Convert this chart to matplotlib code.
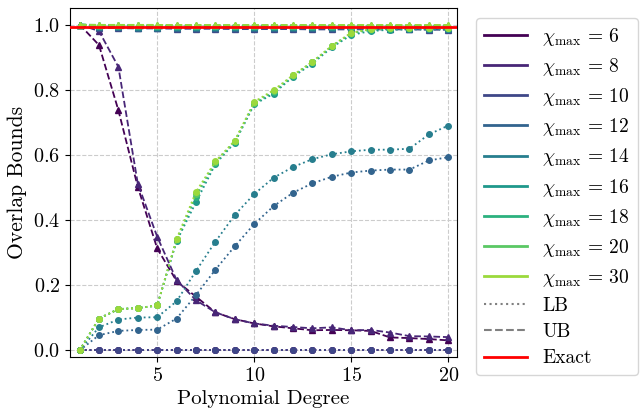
import matplotlib
matplotlib.use('Agg')
import matplotlib.pyplot as plt
from matplotlib.lines import Line2D
import numpy as np

plt.rcParams['font.family'] = 'serif'
plt.rcParams['font.serif'] = ['cmr10']
plt.rcParams['mathtext.fontset'] = 'cm'
plt.rcParams['axes.formatter.use_mathtext'] = True

degrees = list(range(1, 21))
chi_values = [6, 8, 10, 12, 14, 16, 18, 20, 30]
exact_overlap = 0.993

# lower bounds (dotted, circles)
lb_chi6 = [0.0] * 20
lb_chi8 = [0.0] * 20
lb_chi10 = [0.0] * 20
lb_chi12 = [0.0, 0.047, 0.060, 0.063, 0.064, 0.098, 0.170, 0.248, 0.320, 0.388,
            0.443, 0.484, 0.513, 0.533, 0.546, 0.552, 0.555, 0.555, 0.583, 0.593]
lb_chi14 = [0.0, 0.071, 0.095, 0.101, 0.102, 0.151, 0.244, 0.334, 0.416, 0.480,
            0.530, 0.563, 0.587, 0.602, 0.611, 0.616, 0.616, 0.619, 0.663, 0.690]
lb_chi16 = [0.0, 0.098, 0.127, 0.130, 0.138, 0.335, 0.455, 0.572, 0.638, 0.755,
            0.788, 0.840, 0.880, 0.930, 0.968, 0.980, 0.984, 0.985, 0.985, 0.985]
lb_chi18 = [0.0, 0.098, 0.127, 0.130, 0.138, 0.338, 0.472, 0.576, 0.641, 0.758,
            0.792, 0.842, 0.884, 0.933, 0.972, 0.984, 0.987, 0.988, 0.988, 0.988]
lb_chi20 = [0.0, 0.098, 0.127, 0.130, 0.138, 0.341, 0.479, 0.578, 0.643, 0.760,
            0.796, 0.844, 0.885, 0.934, 0.974, 0.985, 0.989, 0.990, 0.990, 0.990]
lb_chi30 = [0.0, 0.098, 0.127, 0.130, 0.138, 0.342, 0.487, 0.580, 0.644, 0.763,
            0.799, 0.845, 0.886, 0.935, 0.975, 0.986, 0.990, 0.990, 0.990, 0.990]

# upper bounds (dashed, triangles)
ub_chi6 = [1.0, 0.937, 0.737, 0.502, 0.313, 0.213, 0.165, 0.117, 0.096, 0.083,
           0.074, 0.068, 0.062, 0.063, 0.062, 0.060, 0.040, 0.038, 0.035, 0.031]
ub_chi8 = [1.0, 0.980, 0.870, 0.512, 0.349, 0.216, 0.154, 0.117, 0.096, 0.083,
           0.076, 0.072, 0.068, 0.071, 0.062, 0.063, 0.055, 0.044, 0.043, 0.041]
ub_chi10 = [1.0, 0.990, 0.989, 0.988, 0.988, 0.987, 0.987, 0.987, 0.986, 0.986,
            0.986, 0.986, 0.985, 0.985, 0.985, 0.985, 0.985, 0.985, 0.984, 0.984]
ub_chi12 = [1.0, 0.992, 0.991, 0.990, 0.990, 0.990, 0.989, 0.989, 0.989, 0.988,
            0.988, 0.988, 0.988, 0.988, 0.987, 0.987, 0.987, 0.987, 0.987, 0.987]
ub_chi14 = [1.0, 0.995, 0.994, 0.993, 0.993, 0.993, 0.992, 0.992, 0.992, 0.992,
            0.991, 0.991, 0.991, 0.991, 0.991, 0.991, 0.990, 0.990, 0.990, 0.990]
ub_chi16 = [1.0, 0.997, 0.996, 0.996, 0.996, 0.995, 0.995, 0.995, 0.995, 0.995,
            0.995, 0.995, 0.994, 0.994, 0.994, 0.994, 0.994, 0.994, 0.994, 0.994]
ub_chi18 = [1.0, 0.998, 0.998, 0.998, 0.997, 0.997, 0.997, 0.997, 0.997, 0.997,
            0.997, 0.997, 0.997, 0.996, 0.996, 0.996, 0.996, 0.996, 0.996, 0.996]
ub_chi20 = [1.0, 0.999, 0.999, 0.999, 0.999, 0.998, 0.998, 0.998, 0.998, 0.998,
            0.998, 0.998, 0.998, 0.998, 0.998, 0.998, 0.998, 0.998, 0.998, 0.998]
ub_chi30 = [1.0, 1.0, 1.0, 1.0, 1.0, 1.0, 1.0, 1.0, 1.0, 1.0,
            1.0, 1.0, 1.0, 1.0, 1.0, 1.0, 1.0, 1.0, 1.0, 1.0]

lower = [lb_chi6, lb_chi8, lb_chi10, lb_chi12, lb_chi14, lb_chi16, lb_chi18, lb_chi20, lb_chi30]
upper = [ub_chi6, ub_chi8, ub_chi10, ub_chi12, ub_chi14, ub_chi16, ub_chi18, ub_chi20, ub_chi30]

colors = plt.cm.viridis(np.linspace(0, 0.85, len(chi_values)))

fig = plt.figure(figsize=(6.41, 4.12), dpi=100)
ax = fig.add_axes([0.109, 0.1335, 0.604, 0.8465])

for c, lb, ub in zip(colors, lower, upper):
    ax.plot(degrees, lb, linestyle=':', marker='o', markersize=4, lw=1.3, color=c)
    ax.plot(degrees, ub, linestyle='--', marker='^', markersize=5, lw=1.3, color=c)

ax.axhline(exact_overlap, color='red', lw=2, zorder=5)

ax.set_xlim(0.5, 20.45)
ax.set_ylim(-0.02, 1.05)
ax.set_xticks([5, 10, 15, 20])
ax.set_yticks([0.0, 0.2, 0.4, 0.6, 0.8, 1.0])
ax.tick_params(labelsize=14.5)
ax.grid(True, linestyle='--', color='#cccccc', lw=0.8)
ax.set_xlabel('Polynomial Degree', fontsize=15)
ax.set_ylabel('Overlap Bounds', fontsize=15.5)

handles = [Line2D([0], [0], color=c, lw=2) for c in colors]
labels = [r'$\chi_{\max}$ = %d' % v for v in chi_values]
handles += [Line2D([0], [0], color='gray', lw=1.5, linestyle=':'),
            Line2D([0], [0], color='gray', lw=1.5, linestyle='--'),
            Line2D([0], [0], color='red', lw=2)]
labels += ['LB', 'UB', 'Exact']
ax.legend(handles, labels, loc='upper left', bbox_to_anchor=(476 / 641, 394 / 412),
          bbox_transform=fig.transFigure, borderaxespad=0, fontsize=14,
          handlelength=2.2, labelspacing=0.42)

fig.savefig('out.png', dpi=100)
